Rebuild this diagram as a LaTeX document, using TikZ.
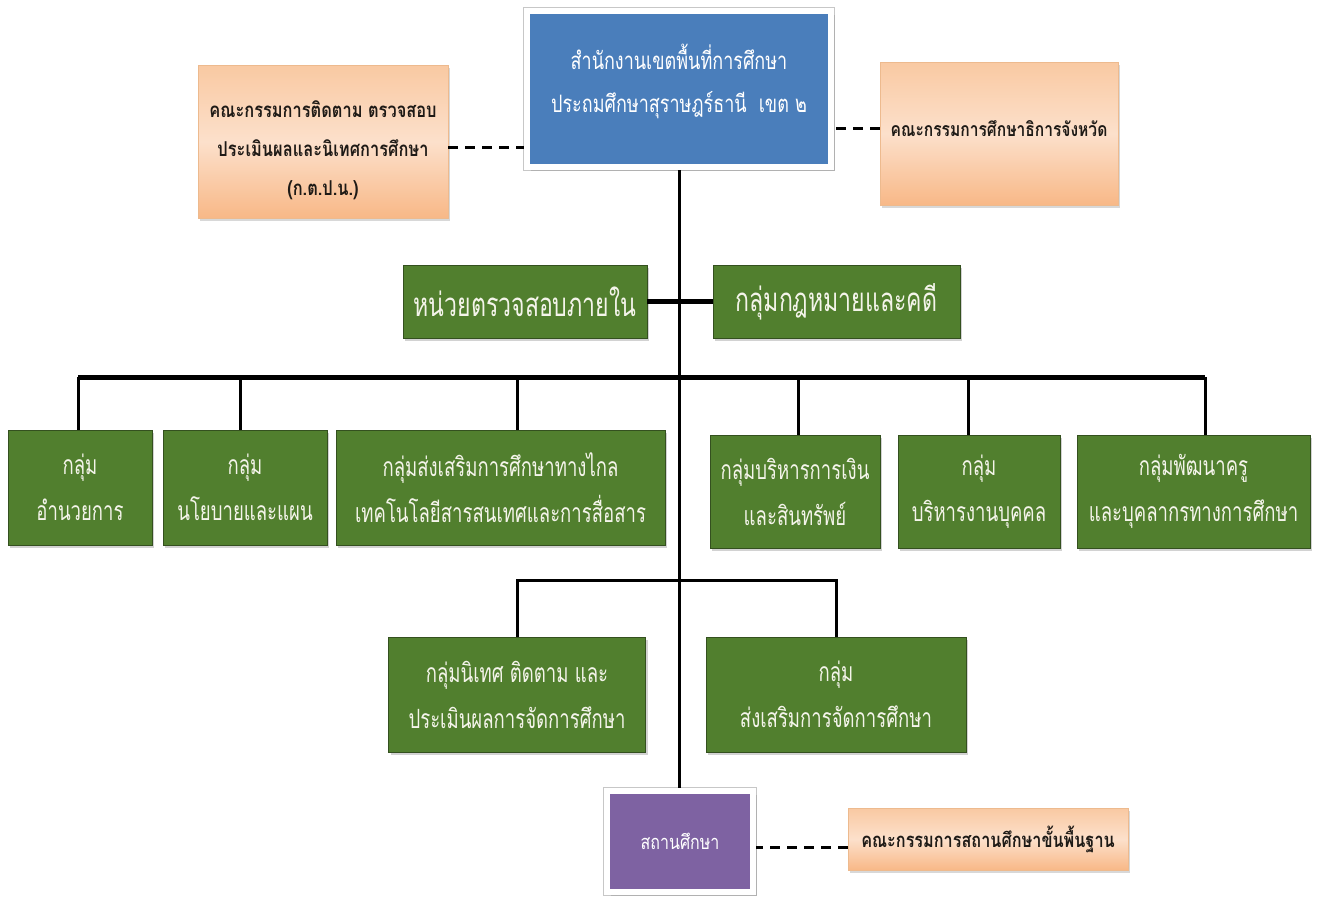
\documentclass[tikz,border=0pt]{standalone}
\usepackage{fontspec}
\newfontfamily\thaiG[Script=Thai, FakeStretch=0.7]{Loma}
\newfontfamily\thaiB[Script=Thai, FakeStretch=0.75]{Loma}
\newfontfamily\thaiO[Script=Thai, FakeStretch=0.8]{Loma}
\usetikzlibrary{shadows}
\definecolor{gfill}{HTML}{517F2E}
\definecolor{gline}{HTML}{34501F}
\definecolor{bfill}{HTML}{4A7EBB}
\definecolor{pfill}{HTML}{7E62A2}
\definecolor{otop}{HTML}{F9C9A2}
\definecolor{omid}{HTML}{FCE0CB}
\definecolor{obot}{HTML}{F8B887}
\definecolor{otext}{HTML}{1E1A16}
\definecolor{gtext}{HTML}{F4F4EA}
\begin{document}
\begin{tikzpicture}[x=1pt,y=-1pt,
  box/.style={inner sep=0pt, align=center},
  greenbox/.style={box, fill=gfill, draw=gline, line width=0.8pt, text=gtext,
     font=\thaiG\fontsize{26.5}{46}\selectfont,
     drop shadow={opacity=0.35, shadow xshift=2pt, shadow yshift=-3pt}},
  bigtext/.style={font=\thaiG\fontsize{33}{38}\selectfont},
  orangebox/.style={box, top color=otop, bottom color=obot, middle color=omid,
     draw=otop!80!brown, line width=0.6pt, text=otext,
     font=\thaiO\bfseries\fontsize{19.5}{39}\selectfont,
     drop shadow={opacity=0.3, shadow xshift=2pt, shadow yshift=-3pt}},
  framebox/.style={box, draw=white, line width=6pt, text=white,
     preaction={draw=black!22, line width=8pt},
     drop shadow={opacity=0.3, shadow xshift=4pt, shadow yshift=-4pt}},
  conn/.style={line width=3pt, black},
  thickconn/.style={line width=5pt, black},
  dashconn/.style={line width=3pt, black, dash pattern=on 10pt off 7pt}]
\useasboundingbox (0,0) rectangle (1320,903);
\fill[white] (0,0) rectangle (1320,903);

% top
\node[framebox, fill=bfill, minimum width=304, minimum height=156,
  font=\thaiB\fontsize{24}{43}\selectfont] (blue) at (679,89)
  {\raisebox{0pt}[0pt][0pt]{\begin{tabular}{@{}c@{}}สำนักงานเขตพื้นที่การศึกษา\\ประถมศึกษาสุราษฎร์ธานี~~เขต ๒\end{tabular}}};
\node[orangebox, minimum width=250, minimum height=153,
  font=\thaiO\bfseries\fontsize{20.5}{39}\selectfont] (lor) at (323,141.5)
  {\\[-4pt]คณะกรรมการติดตาม ตรวจสอบ\\ประเมินผลและนิเทศการศึกษา\\(ก.ต.ป.น.)};
\node[orangebox, minimum width=238, minimum height=143] (ror) at (999,133.5)
  {\raisebox{10pt}{คณะกรรมการศึกษาธิการจังหวัด}};

% row 1
\node[greenbox, bigtext, minimum width=244, minimum height=73] (audit) at (525,301.5)
  {หน่วยตรวจสอบภายใน};
\node[greenbox, bigtext, minimum width=247, minimum height=73] (law) at (836.5,301.5)
  {กลุ่มกฎหมายและคดี};

% row 2
\node[greenbox, minimum width=144, minimum height=115] (g1) at (80,487.5) {กลุ่ม\\อำนวยการ};
\node[greenbox, minimum width=164, minimum height=115] (g2) at (245,487.5) {กลุ่ม\\นโยบายและแผน};
\node[greenbox, minimum width=329, minimum height=115] (g3) at (500.5,487.5)
  {กลุ่มส่งเสริมการศึกษาทางไกล\\เทคโนโลยีสารสนเทศและการสื่อสาร};
\node[greenbox, minimum width=170, minimum height=113] (g4) at (795,491.5)
  {กลุ่มบริหารการเงิน\\และสินทรัพย์};
\node[greenbox, minimum width=162, minimum height=113] (g5) at (979,491.5)
  {กลุ่ม\\บริหารงานบุคคล};
\node[greenbox, minimum width=233, minimum height=113] (g6) at (1193.5,491.5)
  {กลุ่มพัฒนาครู\\และบุคลากรทางการศึกษา};

% row 3
\node[greenbox, minimum width=257, minimum height=115] (g7) at (517,694.5)
  {กลุ่มนิเทศ ติดตาม และ\\ประเมินผลการจัดการศึกษา};
\node[greenbox, minimum width=260, minimum height=115] (g8) at (836,694.5)
  {กลุ่ม\\ส่งเสริมการจัดการศึกษา};

% bottom
\node[framebox, fill=pfill, minimum width=146, minimum height=101,
  font=\thaiO\fontsize{20}{24}\selectfont] (school) at (680,841.5) {สถานศึกษา};
\node[orangebox, minimum width=280, minimum height=62,
  font=\thaiO\bfseries\fontsize{20.3}{39}\selectfont] (bor) at (988,839)
  {คณะกรรมการสถานศึกษาขั้นพื้นฐาน};

% bus coordinates
\coordinate (bar2) at (0,377);
\coordinate (bar3) at (0,580);

% trunk
\draw[conn] (blue.south) -- (blue.south |- school.north);
% row 1 link
\draw[thickconn] (audit.east) -- (law.west);
% row 2 bus
\draw[thickconn] ([xshift=-2pt]g1.north |- bar2) -- ([xshift=11.5pt]g6.north |- bar2);
\draw[conn] ([xshift=-2pt]g1.north) -- ([xshift=-2pt]g1.north |- bar2);
\draw[conn] ([xshift=-5pt]g2.north) -- ([xshift=-5pt]g2.north |- bar2);
\draw[conn] ([xshift=16.5pt]g3.north) -- ([xshift=16.5pt]g3.north |- bar2);
\draw[conn] ([xshift=3pt]g4.north) -- ([xshift=3pt]g4.north |- bar2);
\draw[conn] ([xshift=-11pt]g5.north) -- ([xshift=-11pt]g5.north |- bar2);
\draw[conn] ([xshift=11.5pt]g6.north) -- ([xshift=11.5pt]g6.north |- bar2);
% row 3 bus
\draw[conn] (g7.north) -- (g7.north |- bar3) -- (g8.north |- bar3) -- (g8.north);
% dashed links
\draw[dashconn] ([yshift=-6pt]lor.east) -- ([yshift=-6pt]lor.east -| blue.west);
\draw[dashconn] ([yshift=5pt]ror.west) -- ([yshift=5pt]ror.west -| blue.east);
\draw[dashconn] ([yshift=-8pt]bor.west) -- ([yshift=-8pt]bor.west -| school.east);
\end{tikzpicture}
\end{document}
